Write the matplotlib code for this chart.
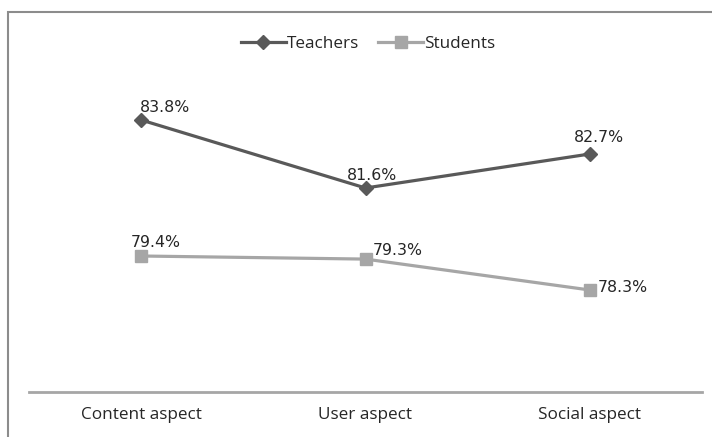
import matplotlib.pyplot as plt
import matplotlib.patches as mpatches

# data
categories = ["Content aspect", "User aspect", "Social aspect"]
teachers = [83.8, 81.6, 82.7]
students = [79.4, 79.3, 78.3]

# label offsets in pixels (manually placed, like the original)
teacher_offsets = [(24, 12), (7, 13), (9, 16)]
student_offsets = [(15, 13), (32, 9), (33, 3)]

dark = '#595959'
light = '#a6a6a6'

fig = plt.figure(figsize=(7.12, 4.37), dpi=100)
ax = fig.add_axes([29 / 712, 1 - 392 / 437, 673 / 712, 340 / 437])

x = range(len(categories))
ax.plot(x, teachers, color=dark, lw=2.3, marker='D', ms=7, label='Teachers')
ax.plot(x, students, color=light, lw=2.3, marker='s', ms=8.5, label='Students')

for i, v in enumerate(teachers):
    ax.annotate(f"{v}%", (i, v), xytext=teacher_offsets[i], textcoords='offset pixels',
                ha='center', va='center', fontsize=11.3, color='#262626')
for i, v in enumerate(students):
    ax.annotate(f"{v}%", (i, v), xytext=student_offsets[i], textcoords='offset pixels',
                ha='center', va='center', fontsize=11.3, color='#262626')

ax.set_xlim(-0.5, 2.5)
ax.set_ylim(75, 86)
ax.set_xticks(list(x))
ax.set_xticklabels(categories, fontsize=12.3, color='#262626', family='Open Sans')
ax.tick_params(axis='x', length=0, pad=11)
ax.set_yticks([])
for side in ['top', 'left', 'right']:
    ax.spines[side].set_visible(False)
ax.spines['bottom'].set_color('#a6a6a6')
ax.spines['bottom'].set_linewidth(2)

leg = ax.legend(loc='center', bbox_to_anchor=(368 / 712, 1 - 44 / 437), bbox_transform=fig.transFigure,
                ncol=2, frameon=False, handlelength=2.6, columnspacing=1.15,
                handletextpad=0.05, prop={'family': 'Open Sans', 'size': 12.3})
for t in leg.get_texts():
    t.set_color('#262626')

# outer chart border (only top/left visible in the crop)
border = mpatches.Rectangle((8 / 712, -0.1), 1.2, 1 - 12 / 437 + 0.1, transform=fig.transFigure,
                            fill=False, edgecolor='#8c8c8c', lw=1.5)
fig.patches.append(border)

fig.savefig('out.png', dpi=100)
